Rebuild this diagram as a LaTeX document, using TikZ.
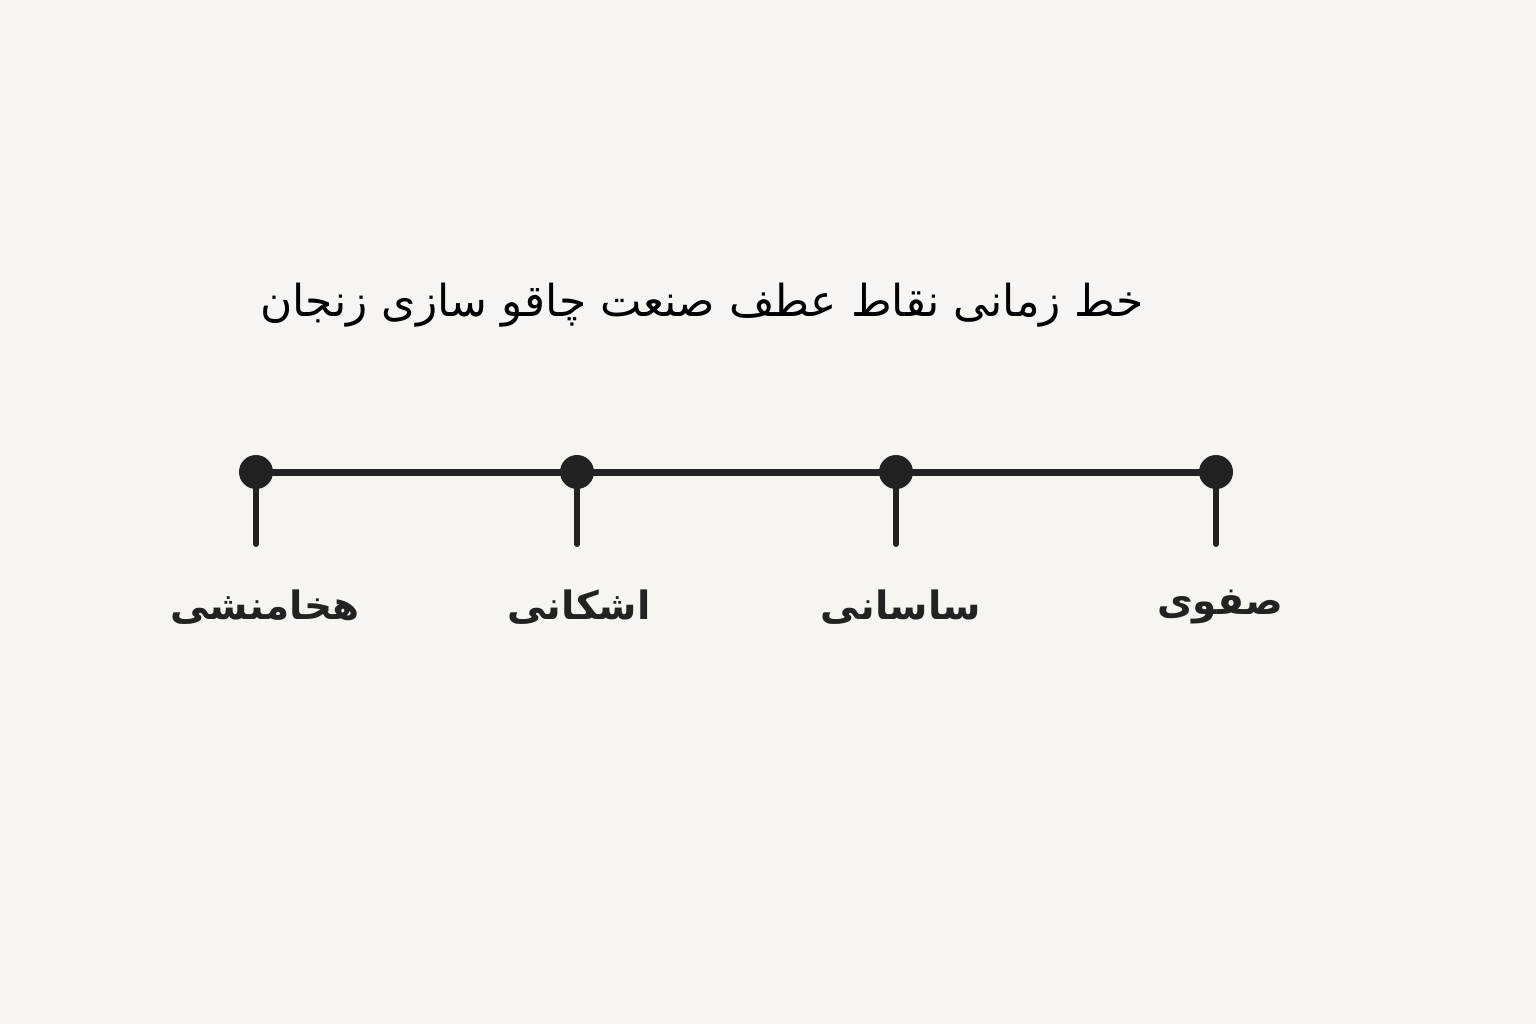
\documentclass[tikz,border=0pt]{standalone}
\usepackage{fontspec}
\TeXXeTstate=1
\newfontfamily\arabicfont[Script=Arabic]{DejaVu Sans}
\definecolor{bg}{HTML}{F7F5F1}
\definecolor{ink}{HTML}{222222}
\begin{document}
\begin{tikzpicture}[x=1pt,y=-1pt,
  dotnode/.style={circle,fill=ink,inner sep=0pt,minimum size=34pt},
  tline/.style={draw=ink,line width=7pt},
  tick/.style={draw=ink,line width=6pt,line cap=round},
  lbl/.style={font=\arabicfont\bfseries\fontsize{39}{44}\selectfont,text=ink},
  ttl/.style={font=\arabicfont\fontsize{44}{50}\selectfont,text=black}]
\fill[bg] (0,0) rectangle (1536,1024);
\useasboundingbox (0,0) rectangle (1536,1024);
\node[ttl] (title) at (702,305) {\beginR خط زمانی نقاط عطف صنعت چاقو سازی زنجان\endR};
\node[dotnode] (d1) at (256,472) {};
\node[dotnode] (d2) at (577,472) {};
\node[dotnode] (d3) at (896,472) {};
\node[dotnode] (d4) at (1216,472) {};
\draw[tline] (d1.center) -- (d4.center);
\coordinate (t1) at (256,544);
\coordinate (t2) at (577,544);
\coordinate (t3) at (896,544);
\coordinate (t4) at (1216,544);
\draw[tick] (d1.center) -- (t1);
\draw[tick] (d2.center) -- (t2);
\draw[tick] (d3.center) -- (t3);
\draw[tick] (d4.center) -- (t4);
\node[lbl] (l1) at (265,607) {\beginR هخامنشی\endR};
\node[lbl] (l2) at (579,607) {\beginR اشکانی\endR};
\node[lbl] (l3) at (901,607) {\beginR ساسانی\endR};
\node[lbl] (l4) at (1220,607) {\beginR صفوی\endR};
\end{tikzpicture}
\end{document}
